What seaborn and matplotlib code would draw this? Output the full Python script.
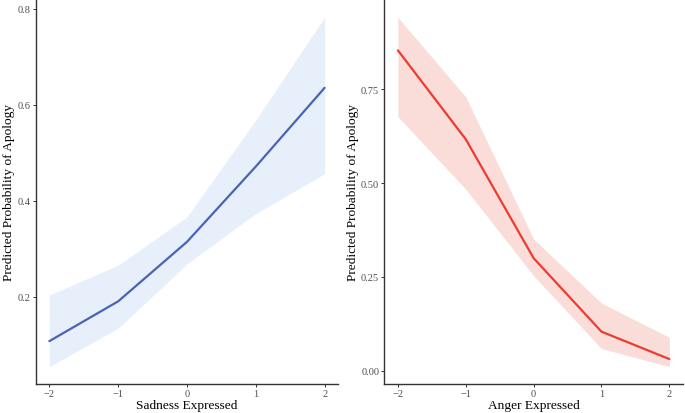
import matplotlib
matplotlib.use("Agg")
import matplotlib.pyplot as plt
import seaborn as sns
import pandas as pd

# valores
niveis = [-2, -1, 0, 1, 2]

tristeza_prob = [0.107, 0.190, 0.314, 0.471, 0.635]
tristeza_sup = [0.203, 0.265, 0.366, 0.568, 0.782]
tristeza_inf = [0.054, 0.134, 0.268, 0.373, 0.456]

raiva_prob = [0.854, 0.617, 0.300, 0.104, 0.031]
raiva_sup = [0.942, 0.730, 0.351, 0.180, 0.089]
raiva_inf = [0.677, 0.484, 0.253, 0.059, 0.011]

ticks_tristeza = [0.2, 0.4, 0.6, 0.8]
ticks_raiva = [0.0, 0.25, 0.5, 0.75]

sns.set_style("white")
plt.rcParams['font.family'] = ['Liberation Serif', 'DejaVu Serif']

fig = plt.figure(figsize=(6.85, 4.14), dpi=100)
ax1 = fig.add_axes([0.052, 0.07, 0.442, 0.928])
ax2 = fig.add_axes([0.561, 0.07, 0.436, 0.928])


def painel(ax, prob, sup, inf, cor_linha, cor_faixa, xlabel, yticks, fmt):
    df = pd.DataFrame({'x': niveis, 'y': prob, 'sup': sup, 'inf': inf})
    ax.fill_between(df['x'], df['inf'], df['sup'], color=cor_faixa, linewidth=0)
    sns.lineplot(data=df, x='x', y='y', ax=ax, color=cor_linha, linewidth=1.6)
    ax.set_xlim(-2.2, 2.2)
    faixa = max(sup) - min(inf)
    ax.set_ylim(min(inf) - 0.05 * faixa, max(sup) + 0.05 * faixa)
    ax.set_xticks(niveis)
    ax.set_xticklabels(['\u22122', '\u22121', '0', '1', '2'])
    ax.set_yticks(yticks)
    ax.set_yticklabels([fmt.format(v) for v in yticks])
    ax.set_xlabel(xlabel, fontsize=9.6, color='black', labelpad=0.5)
    ax.set_ylabel('Predicted Probability of Apology', fontsize=9.6, color='black', labelpad=1.5)
    ax.tick_params(axis='both', which='major', length=2.5, width=0.7, color='#333333',
                   labelsize=7.5, labelcolor='#4D4D4D', pad=1.2, bottom=True, left=True)
    for lado in ['top', 'right']:
        ax.spines[lado].set_visible(False)
    for lado in ['left', 'bottom']:
        ax.spines[lado].set_color('#333333')
        ax.spines[lado].set_linewidth(1.0)


painel(ax1, tristeza_prob, tristeza_sup, tristeza_inf, '#4A63B5', '#E6EFFA',
       'Sadness Expressed', ticks_tristeza, '{:.1f}')
painel(ax2, raiva_prob, raiva_sup, raiva_inf, '#EE3B30', '#FADDD8',
       'Anger Expressed', ticks_raiva, '{:.2f}')

plt.savefig('out.png', dpi=100)
